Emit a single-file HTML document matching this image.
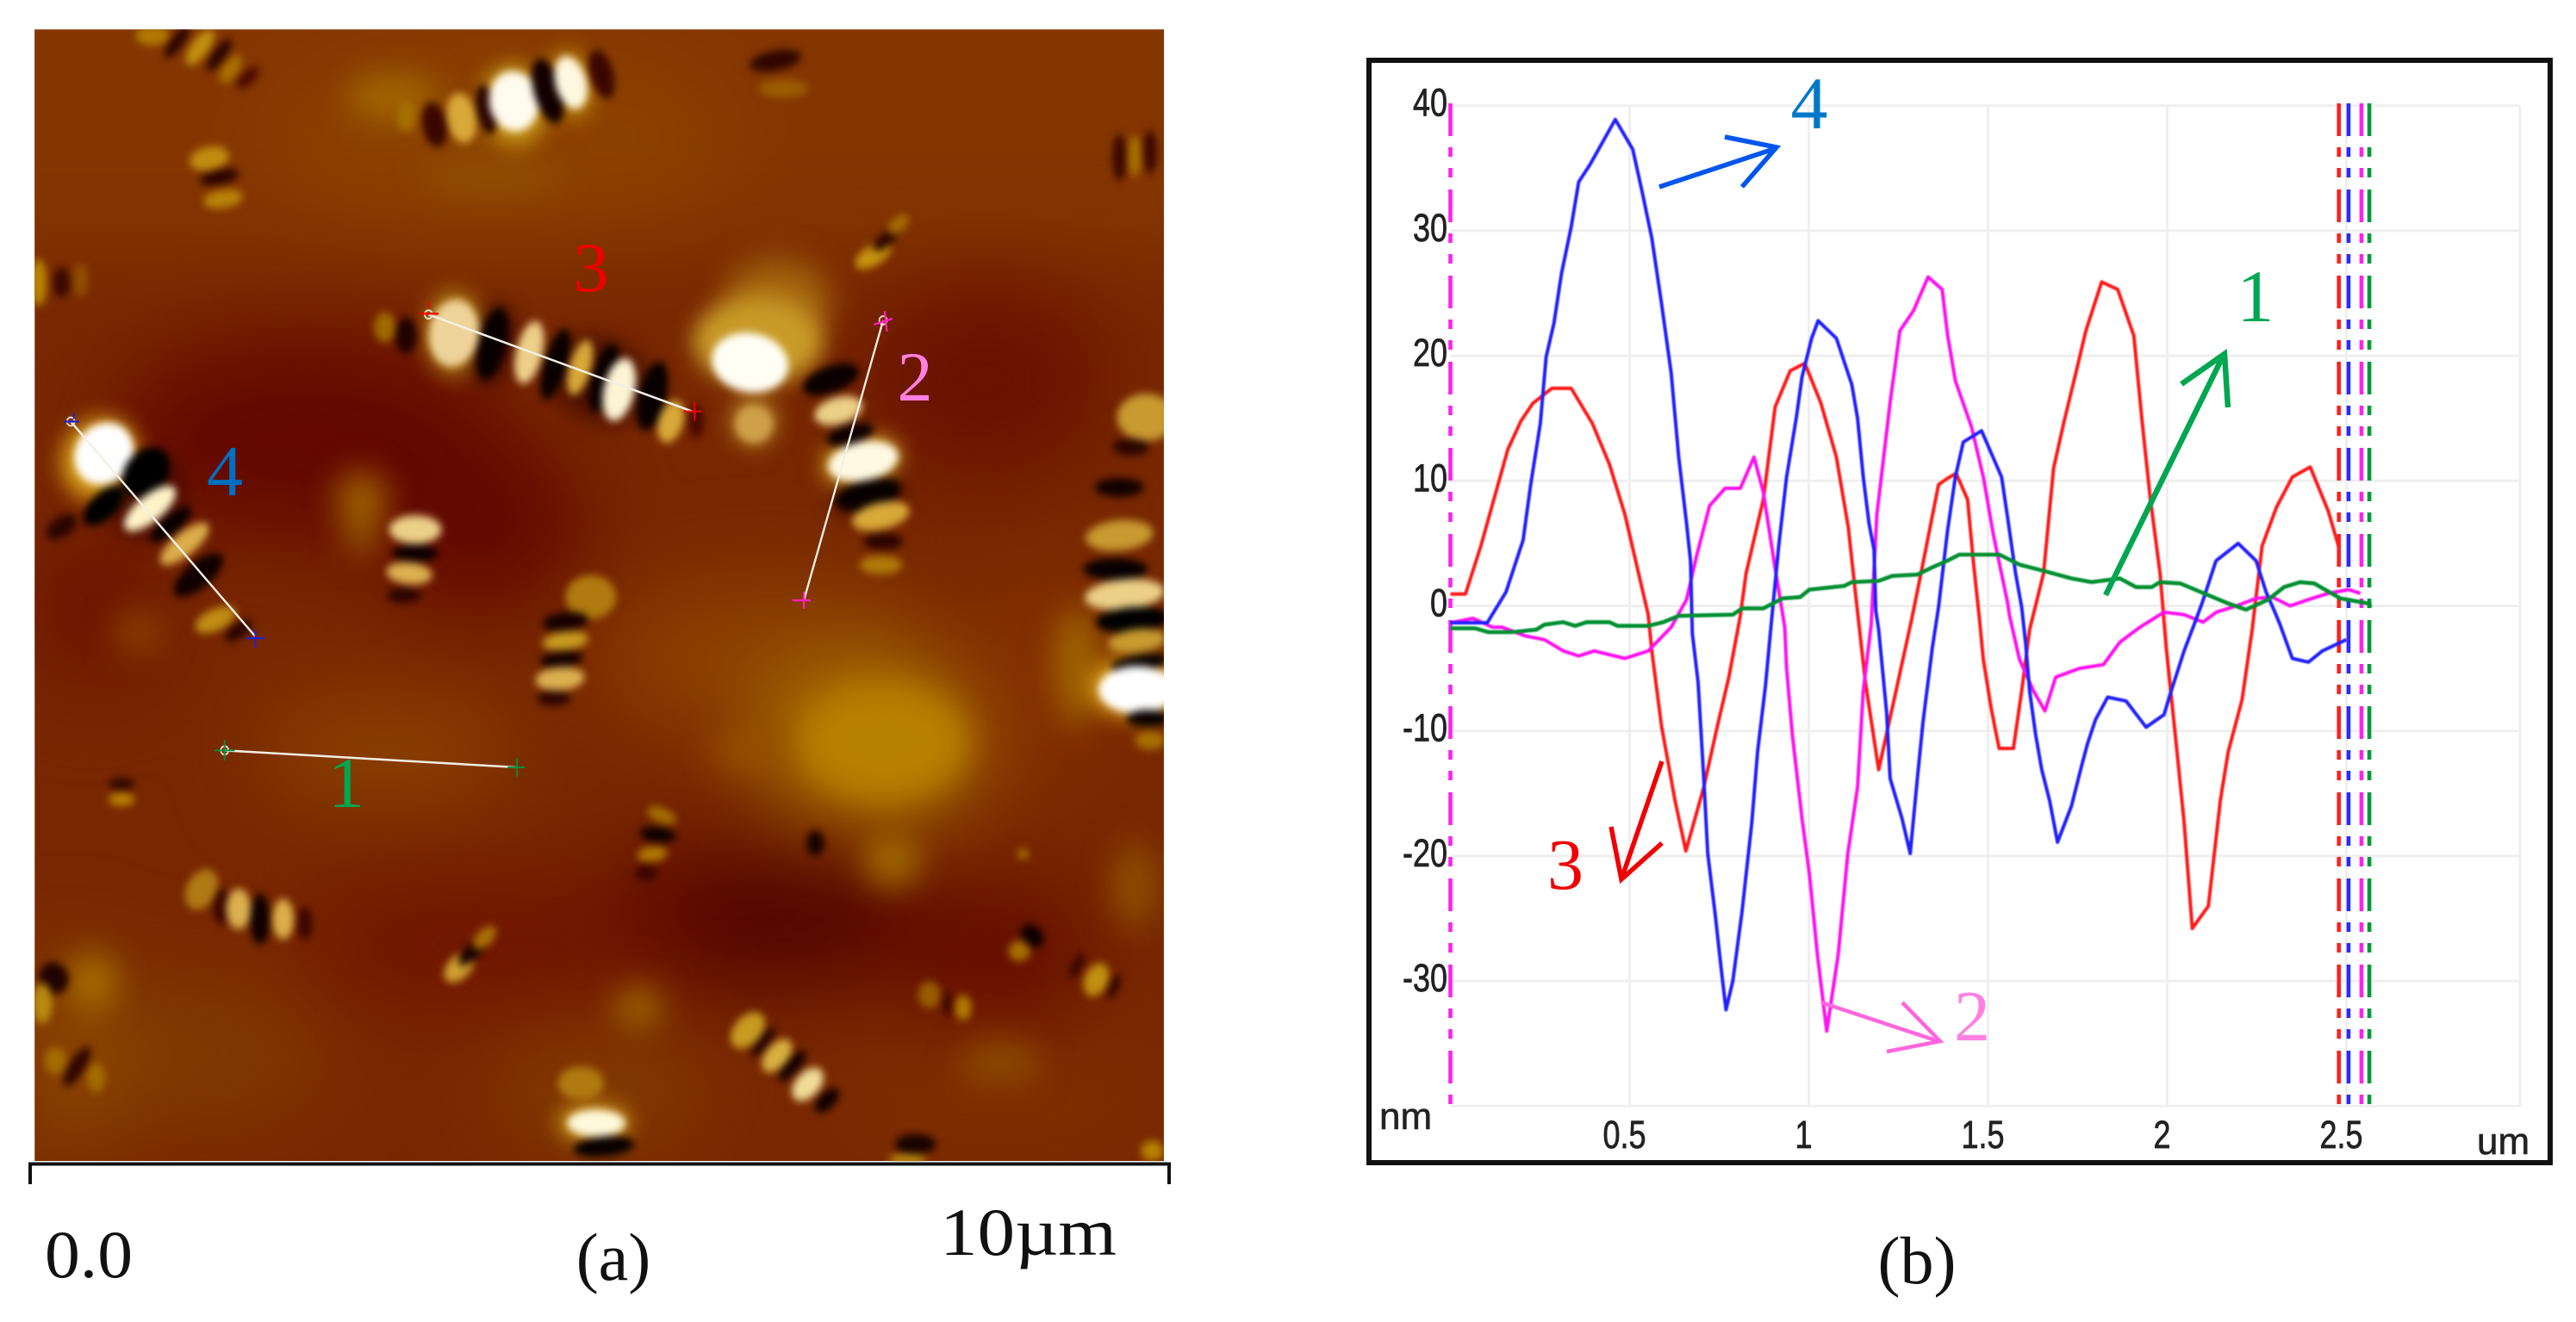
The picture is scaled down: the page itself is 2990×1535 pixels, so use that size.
<!DOCTYPE html>
<html lang="en">
<head>
<meta charset="utf-8">
<title>AFM map and height profiles</title>
<style>
html,body{margin:0;padding:0;background:#fff;width:2990px;height:1535px;overflow:hidden}
svg{display:block}
.ser{font-family:"Liberation Serif",serif}
.san{font-family:"Liberation Sans",sans-serif}
</style>
</head>
<body>
<svg id="fig" xmlns="http://www.w3.org/2000/svg" width="2990" height="1535" viewBox="0 0 2990 1535">
<defs>
<filter id="b60" x="-50%" y="-50%" width="200%" height="200%" color-interpolation-filters="sRGB"><feGaussianBlur stdDeviation="55"/></filter>
<filter id="b25" x="-50%" y="-50%" width="200%" height="200%" color-interpolation-filters="sRGB"><feGaussianBlur stdDeviation="20"/></filter>
<filter id="b6" x="-50%" y="-50%" width="200%" height="200%" color-interpolation-filters="sRGB"><feGaussianBlur stdDeviation="13"/></filter>
<filter id="b3" x="-50%" y="-50%" width="200%" height="200%" color-interpolation-filters="sRGB"><feGaussianBlur stdDeviation="5"/></filter>
<filter id="soft" x="-5%" y="-5%" width="110%" height="110%" color-interpolation-filters="sRGB"><feGaussianBlur stdDeviation="0.7"/></filter>
<clipPath id="mapclip"><rect x="45" y="35" width="1468" height="1342"/></clipPath>
</defs>

<g id="panel-a">
<g transform="scale(0.8929,0.979)" clip-path="url(#mapclip)">
<rect x="45" y="35" width="1468" height="1342" fill="#782800"/>
<g filter="url(#b60)">
<rect x="-100" y="-100" width="1800" height="400" fill="#843600"/>
<ellipse cx="650" cy="170" rx="300" ry="110" fill="#8c4200"/>
<ellipse cx="1200" cy="150" rx="250" ry="70" fill="#833600"/>
<ellipse cx="400" cy="520" rx="260" ry="120" fill="#640800"/>
<ellipse cx="620" cy="620" rx="140" ry="100" fill="#620800"/>
<ellipse cx="1280" cy="450" rx="160" ry="120" fill="#6a1200"/>
<ellipse cx="120" cy="720" rx="90" ry="90" fill="#6c1400"/>
<ellipse cx="500" cy="890" rx="170" ry="50" fill="#904800"/>
<ellipse cx="1000" cy="780" rx="220" ry="90" fill="#8c4200"/>
<ellipse cx="1130" cy="880" rx="150" ry="100" fill="#aa7000"/>
<ellipse cx="1350" cy="800" rx="90" ry="140" fill="#823000"/>
<ellipse cx="980" cy="1090" rx="240" ry="80" fill="#540300"/>
<ellipse cx="1290" cy="1130" rx="130" ry="80" fill="#640c00"/>
<ellipse cx="640" cy="1120" rx="250" ry="70" fill="#701400"/>
<ellipse cx="230" cy="1250" rx="200" ry="80" fill="#823a00"/>
<ellipse cx="780" cy="1290" rx="140" ry="70" fill="#843c00"/>
<ellipse cx="1300" cy="1300" rx="220" ry="60" fill="#803000"/>
<ellipse cx="90" cy="1250" rx="70" ry="120" fill="#8c4800"/>
</g>
<g filter="url(#b25)">
<ellipse cx="1150" cy="880" rx="110" ry="70" fill="#b68000"/>
<ellipse cx="1160" cy="1020" rx="38" ry="30" fill="#a26c00"/>
<ellipse cx="510" cy="115" rx="60" ry="25" fill="#a56a00"/>
<ellipse cx="640" cy="210" rx="90" ry="22" fill="#934e00"/>
<ellipse cx="1010" cy="360" rx="70" ry="50" fill="#a76a10"/>
<ellipse cx="975" cy="890" rx="50" ry="20" fill="#985000"/>
<ellipse cx="470" cy="590" rx="35" ry="28" fill="#a06400"/>
<ellipse cx="470" cy="635" rx="25" ry="22" fill="#955800"/>
<ellipse cx="180" cy="750" rx="35" ry="22" fill="#8a4300"/>
<ellipse cx="1400" cy="790" rx="30" ry="70" fill="#a06400"/>
<ellipse cx="120" cy="1165" rx="32" ry="32" fill="#a87000"/>
<ellipse cx="830" cy="1195" rx="32" ry="20" fill="#a57000"/>
<ellipse cx="1300" cy="1260" rx="55" ry="22" fill="#8f4d00"/>
<ellipse cx="1475" cy="1050" rx="30" ry="50" fill="#8f4d00"/>
</g>
<g filter="url(#b6)">
<ellipse cx="590" cy="395" rx="38" ry="50" fill="#b07d14"/>
<ellipse cx="985" cy="405" rx="85" ry="52" fill="#c89a28"/>
<ellipse cx="980" cy="500" rx="30" ry="28" fill="#b8872a"/>
<ellipse cx="130" cy="545" rx="52" ry="48" transform="rotate(-35 130 545)" fill="#d8a018"/>
<ellipse cx="1475" cy="815" rx="60" ry="36" fill="#d8a018"/>
<ellipse cx="1120" cy="547" rx="52" ry="28" transform="rotate(-10 1120 547)" fill="#d0a020"/>
<ellipse cx="668" cy="125" rx="42" ry="48" transform="rotate(-15 668 125)" fill="#c89a18"/>
<ellipse cx="742" cy="100" rx="28" ry="40" transform="rotate(-15 742 100)" fill="#c08a10"/>
<ellipse cx="772" cy="1332" rx="48" ry="22" fill="#c89a18"/>
<ellipse cx="640" cy="408" rx="24" ry="46" transform="rotate(15 640 408)" fill="#300200"/>
<ellipse cx="780" cy="450" rx="70" ry="50" transform="rotate(18 780 450)" fill="#300200" opacity="0.6"/>
<ellipse cx="190" cy="590" rx="50" ry="45" transform="rotate(-36 190 590)" fill="#300200" opacity="0.6"/>
<ellipse cx="1130" cy="587" rx="48" ry="22" transform="rotate(-12 1130 587)" fill="#300200" opacity="0.6"/>
</g>
<g filter="url(#b3)">
<g>
<ellipse cx="565" cy="148" rx="16" ry="27" transform="rotate(-12 565 148)" fill="#3a0600"/>
<ellipse cx="528" cy="138" rx="12" ry="18" fill="#a57000"/>
<ellipse cx="600" cy="140" rx="19" ry="30" transform="rotate(-12 600 140)" fill="#d8a838"/>
<ellipse cx="632" cy="130" rx="13" ry="30" transform="rotate(-12 632 130)" fill="#2a0400"/>
<ellipse cx="668" cy="120" rx="32" ry="36" transform="rotate(-15 668 120)" fill="#fffbee"/>
<ellipse cx="712" cy="108" rx="18" ry="40" transform="rotate(-18 712 108)" fill="#120000"/>
<ellipse cx="742" cy="98" rx="20" ry="32" transform="rotate(-18 742 98)" fill="#fff8e0"/>
<ellipse cx="782" cy="88" rx="15" ry="30" transform="rotate(-18 782 88)" fill="#3a0600"/>
</g>
<g>
<ellipse cx="198" cy="42" rx="22" ry="12" fill="#b07a00"/>
<ellipse cx="230" cy="50" rx="24" ry="8" transform="rotate(-50 230 50)" fill="#2a0400"/>
<ellipse cx="260" cy="56" rx="26" ry="11" transform="rotate(-50 260 56)" fill="#c09010"/>
<ellipse cx="285" cy="65" rx="24" ry="8" transform="rotate(-50 285 65)" fill="#2a0400"/>
<ellipse cx="300" cy="82" rx="20" ry="10" transform="rotate(-50 300 82)" fill="#a87000"/>
<ellipse cx="322" cy="92" rx="18" ry="8" transform="rotate(-40 322 92)" fill="#4a0800"/>
</g>
<g>
<ellipse cx="272" cy="188" rx="26" ry="14" transform="rotate(-10 272 188)" fill="#c08c10"/>
<ellipse cx="285" cy="210" rx="26" ry="9" transform="rotate(-10 285 210)" fill="#2a0400"/>
<ellipse cx="290" cy="236" rx="26" ry="11" transform="rotate(-8 290 236)" fill="#b88208"/>
</g>
<ellipse cx="1008" cy="72" rx="34" ry="12" transform="rotate(-10 1008 72)" fill="#300600"/>
<ellipse cx="1018" cy="105" rx="32" ry="11" fill="#9a5c00"/>
<ellipse cx="1455" cy="187" rx="9" ry="28" fill="#3a0800"/>
<ellipse cx="1475" cy="185" rx="9" ry="24" fill="#a87000"/>
<ellipse cx="1495" cy="180" rx="9" ry="26" fill="#3a0800"/>
<ellipse cx="1135" cy="303" rx="26" ry="12" transform="rotate(-28 1135 303)" fill="#c89410"/>
<ellipse cx="1153" cy="283" rx="22" ry="8" transform="rotate(-38 1153 283)" fill="#2a0400"/>
<ellipse cx="1168" cy="266" rx="16" ry="9" transform="rotate(-38 1168 266)" fill="#a46c00"/>
<ellipse cx="50" cy="335" rx="11" ry="28" fill="#b88400"/>
<ellipse cx="80" cy="335" rx="11" ry="18" fill="#3a0800"/>
<ellipse cx="105" cy="332" rx="10" ry="20" fill="#8f4e00"/>
<g>
<ellipse cx="500" cy="388" rx="14" ry="18" fill="#a06a00"/>
<ellipse cx="528" cy="398" rx="14" ry="22" fill="#200200"/>
<ellipse cx="590" cy="395" rx="32" ry="40" transform="rotate(12 590 395)" fill="#eed39a"/>
<ellipse cx="640" cy="408" rx="17" ry="44" transform="rotate(15 640 408)" fill="#080000"/>
<ellipse cx="688" cy="418" rx="17" ry="38" transform="rotate(15 688 418)" fill="#edd08a"/>
<ellipse cx="722" cy="432" rx="14" ry="44" transform="rotate(18 722 432)" fill="#080000"/>
<ellipse cx="754" cy="436" rx="14" ry="34" transform="rotate(18 754 436)" fill="#d8a838"/>
<ellipse cx="785" cy="448" rx="15" ry="42" transform="rotate(18 785 448)" fill="#080000"/>
<ellipse cx="805" cy="462" rx="20" ry="38" transform="rotate(15 805 462)" fill="#fdf4d4"/>
<ellipse cx="848" cy="470" rx="18" ry="42" transform="rotate(15 848 470)" fill="#080000"/>
<ellipse cx="872" cy="500" rx="16" ry="26" transform="rotate(20 872 500)" fill="#d8a838"/>
<ellipse cx="905" cy="500" rx="10" ry="20" fill="#4a0800"/>
</g>
<g>
<ellipse cx="975" cy="430" rx="50" ry="35" transform="rotate(8 975 430)" fill="#fffff6"/>
<ellipse cx="980" cy="503" rx="24" ry="22" fill="#cfa04a"/>
</g>
<g>
<ellipse cx="1080" cy="450" rx="38" ry="16" transform="rotate(-18 1080 450)" fill="#0a0000"/>
<ellipse cx="1090" cy="487" rx="32" ry="16" transform="rotate(-14 1090 487)" fill="#ecd088"/>
<ellipse cx="1105" cy="515" rx="32" ry="12" transform="rotate(-14 1105 515)" fill="#100000"/>
<ellipse cx="1122" cy="547" rx="46" ry="23" transform="rotate(-10 1122 547)" fill="#fff9e4"/>
<ellipse cx="1128" cy="587" rx="44" ry="17" transform="rotate(-12 1128 587)" fill="#080000"/>
<ellipse cx="1145" cy="612" rx="38" ry="16" transform="rotate(-12 1145 612)" fill="#d8a838"/>
<ellipse cx="1148" cy="642" rx="26" ry="10" fill="#2a0400"/>
<ellipse cx="1145" cy="670" rx="28" ry="11" fill="#b07a08"/>
</g>
<g>
<ellipse cx="135" cy="538" rx="40" ry="35" transform="rotate(-35 135 538)" fill="#ffffff"/>
<ellipse cx="190" cy="560" rx="34" ry="26" transform="rotate(-40 190 560)" fill="#000000"/>
<ellipse cx="135" cy="600" rx="32" ry="16" transform="rotate(-38 135 600)" fill="#000000"/>
<ellipse cx="195" cy="603" rx="40" ry="16" transform="rotate(-36 195 603)" fill="#fff3c8"/>
<ellipse cx="222" cy="622" rx="32" ry="11" transform="rotate(-36 222 622)" fill="#080000"/>
<ellipse cx="240" cy="645" rx="38" ry="14" transform="rotate(-36 240 645)" fill="#dcae4a"/>
<ellipse cx="258" cy="682" rx="38" ry="16" transform="rotate(-36 258 682)" fill="#100000"/>
<ellipse cx="280" cy="735" rx="28" ry="13" transform="rotate(-22 280 735)" fill="#c08c14"/>
<ellipse cx="310" cy="748" rx="20" ry="9" transform="rotate(-30 310 748)" fill="#2a0400"/>
<ellipse cx="80" cy="625" rx="22" ry="12" transform="rotate(-30 80 625)" fill="#2a0600"/>
</g>
<g>
<ellipse cx="540" cy="628" rx="34" ry="17" fill="#ecd088"/>
<ellipse cx="540" cy="656" rx="30" ry="10" fill="#0c0000"/>
<ellipse cx="532" cy="680" rx="30" ry="13" transform="rotate(5 532 680)" fill="#dcb050"/>
<ellipse cx="525" cy="706" rx="22" ry="9" fill="#2a0400"/>
</g>
<g>
<ellipse cx="768" cy="708" rx="33" ry="26" fill="#b07a10"/>
<ellipse cx="735" cy="737" rx="30" ry="11" transform="rotate(-6 735 737)" fill="#160000"/>
<ellipse cx="735" cy="760" rx="30" ry="11" transform="rotate(-6 735 760)" fill="#c89a20"/>
<ellipse cx="730" cy="782" rx="28" ry="10" transform="rotate(-6 730 782)" fill="#160000"/>
<ellipse cx="728" cy="805" rx="32" ry="14" transform="rotate(-4 728 805)" fill="#dcb050"/>
<ellipse cx="720" cy="828" rx="22" ry="9" fill="#2a0400"/>
</g>
<g>
<ellipse cx="1490" cy="495" rx="38" ry="28" fill="#c89a30"/>
<ellipse cx="1470" cy="530" rx="24" ry="10" fill="#2a0400"/>
<ellipse cx="1455" cy="578" rx="32" ry="11" fill="#100000"/>
<ellipse cx="1455" cy="635" rx="44" ry="18" transform="rotate(-5 1455 635)" fill="#c89a30"/>
<ellipse cx="1450" cy="675" rx="42" ry="13" fill="#080000"/>
<ellipse cx="1462" cy="705" rx="52" ry="18" transform="rotate(-5 1462 705)" fill="#ecd088"/>
<ellipse cx="1472" cy="735" rx="48" ry="15" transform="rotate(-4 1472 735)" fill="#000000"/>
<ellipse cx="1478" cy="760" rx="38" ry="14" transform="rotate(-6 1478 760)" fill="#c89a30"/>
<ellipse cx="1482" cy="786" rx="38" ry="10" transform="rotate(-8 1482 786)" fill="#080000"/>
<ellipse cx="1478" cy="818" rx="50" ry="28" fill="#ffffff"/>
<ellipse cx="1492" cy="852" rx="28" ry="10" fill="#080000"/>
<ellipse cx="1495" cy="878" rx="20" ry="11" fill="#a87000"/>
</g>
<ellipse cx="158" cy="930" rx="17" ry="7" fill="#2a0600"/>
<ellipse cx="158" cy="948" rx="17" ry="8" fill="#b88200"/>
<g>
<ellipse cx="262" cy="1055" rx="19" ry="26" transform="rotate(35 262 1055)" fill="#b07a14"/>
<ellipse cx="288" cy="1075" rx="11" ry="22" fill="#3a0600"/>
<ellipse cx="310" cy="1078" rx="16" ry="24" fill="#dcb050"/>
<ellipse cx="338" cy="1090" rx="13" ry="30" fill="#100000"/>
<ellipse cx="368" cy="1090" rx="14" ry="24" fill="#dcae4a"/>
<ellipse cx="396" cy="1095" rx="10" ry="20" fill="#3a0600"/>
</g>
<ellipse cx="597" cy="1147" rx="23" ry="14" transform="rotate(-40 597 1147)" fill="#d0a030"/>
<ellipse cx="615" cy="1128" rx="24" ry="9" transform="rotate(-40 615 1128)" fill="#160000"/>
<ellipse cx="630" cy="1112" rx="18" ry="10" transform="rotate(-40 630 1112)" fill="#a87008"/>
<ellipse cx="860" cy="967" rx="20" ry="9" transform="rotate(20 860 967)" fill="#a46c00"/>
<ellipse cx="855" cy="990" rx="24" ry="9" transform="rotate(5 855 990)" fill="#0c0000"/>
<ellipse cx="848" cy="1013" rx="20" ry="9" transform="rotate(-5 848 1013)" fill="#b07a00"/>
<ellipse cx="840" cy="1035" rx="14" ry="10" fill="#3a0600"/>
<ellipse cx="1060" cy="1000" rx="12" ry="15" fill="#180200"/>
<ellipse cx="1330" cy="1013" rx="8" ry="6" fill="#a87000"/>
<ellipse cx="1342" cy="1110" rx="16" ry="12" transform="rotate(40 1342 1110)" fill="#0c0000"/>
<ellipse cx="1325" cy="1128" rx="14" ry="12" fill="#a87000"/>
<ellipse cx="1425" cy="1162" rx="15" ry="21" transform="rotate(30 1425 1162)" fill="#c09010"/>
<ellipse cx="1400" cy="1145" rx="6" ry="16" transform="rotate(30 1400 1145)" fill="#300400"/>
<ellipse cx="1448" cy="1170" rx="6" ry="16" transform="rotate(30 1448 1170)" fill="#300400"/>
<ellipse cx="1208" cy="1180" rx="15" ry="16" fill="#985c00"/>
<ellipse cx="1232" cy="1190" rx="6" ry="15" fill="#3a0600"/>
<ellipse cx="1252" cy="1195" rx="11" ry="15" fill="#b07a00"/>
<g>
<ellipse cx="972" cy="1222" rx="26" ry="17" transform="rotate(-42 972 1222)" fill="#c89a20"/>
<ellipse cx="992" cy="1236" rx="22" ry="7" transform="rotate(-48 992 1236)" fill="#200200"/>
<ellipse cx="1010" cy="1252" rx="24" ry="14" transform="rotate(-45 1010 1252)" fill="#d8b040"/>
<ellipse cx="1030" cy="1264" rx="24" ry="9" transform="rotate(-45 1030 1264)" fill="#160000"/>
<ellipse cx="1050" cy="1286" rx="24" ry="15" transform="rotate(-42 1050 1286)" fill="#f0dc98"/>
<ellipse cx="1075" cy="1305" rx="19" ry="10" transform="rotate(-40 1075 1305)" fill="#100000"/>
</g>
<g>
<ellipse cx="755" cy="1285" rx="30" ry="20" fill="#b07a10"/>
<ellipse cx="775" cy="1332" rx="38" ry="16" fill="#fff8dc"/>
<ellipse cx="785" cy="1360" rx="40" ry="12" transform="rotate(-5 785 1360)" fill="#080000"/>
</g>
<ellipse cx="1190" cy="1357" rx="27" ry="12" fill="#180200"/>
<ellipse cx="1180" cy="1375" rx="25" ry="6" fill="#c09010"/>
<ellipse cx="1498" cy="1365" rx="15" ry="12" fill="#b88200"/>
<ellipse cx="70" cy="1160" rx="20" ry="18" transform="rotate(40 70 1160)" fill="#200200"/>
<ellipse cx="55" cy="1190" rx="13" ry="24" fill="#b88a10"/>
<ellipse cx="100" cy="1265" rx="10" ry="28" transform="rotate(35 100 1265)" fill="#300600"/>
<ellipse cx="72" cy="1258" rx="14" ry="16" fill="#a46c00"/>
<ellipse cx="125" cy="1278" rx="12" ry="17" fill="#a46c00"/>
</g>
<g>
<line x1="292" y1="890" x2="670" y2="910" stroke="#f2efe6" stroke-width="2.6"/>
<circle cx="292" cy="890" r="5" fill="none" stroke="#e8dcc8" stroke-width="2"/>
<path d="M279 890H305M292 878V902M660 910H682M672 899V921" stroke="#009040" stroke-width="2" fill="none"/>
</g>
<g>
<line x1="1148" y1="380" x2="1045" y2="712" stroke="#f2efe6" stroke-width="2.6"/>
<circle cx="1148" cy="380" r="5" fill="none" stroke="#e8dcc8" stroke-width="2"/>
<path d="M1136 385L1160 378M1150 369L1153 393M1030 712H1054M1045 702V722" stroke="#ff20c0" stroke-width="2.4" fill="none"/>
</g>
<g>
<line x1="557" y1="373" x2="900" y2="488" stroke="#f2efe6" stroke-width="2.6"/>
<circle cx="557" cy="373" r="5" fill="none" stroke="#e8dcc8" stroke-width="2"/>
<path d="M545 372H570M557 358V365M889 488H912M903 477V499" stroke="#f00000" stroke-width="2.4" fill="none"/>
</g>
<g>
<line x1="92" y1="500" x2="332" y2="755" stroke="#f2efe6" stroke-width="2.6"/>
<circle cx="92" cy="500" r="5" fill="none" stroke="#e8dcc8" stroke-width="2"/>
<path d="M84 500H103M96 490V497M320 757H344M332 747V768" stroke="#2020e0" stroke-width="2.2" fill="none"/>
</g>
</g>
<text x="686" y="338" class="ser" font-size="82" text-anchor="middle" fill="#f00000">3</text>
<text x="1062" y="465" class="ser" font-size="82" text-anchor="middle" fill="#ff80e0">2</text>
<text x="261" y="575" class="ser" font-size="84" text-anchor="middle" fill="#0070c0">4</text>
<text x="402" y="937" class="ser" font-size="84" text-anchor="middle" fill="#00a650">1</text>
<path d="M35 1375V1351.5H1357V1375" fill="none" stroke="#111" stroke-width="4"/>
<text x="52" y="1483" class="ser" font-size="78" fill="#111" textLength="102" lengthAdjust="spacingAndGlyphs">0.0</text>
<text x="1091" y="1457" class="ser" font-size="78" fill="#111" textLength="205" lengthAdjust="spacingAndGlyphs">10µm</text>
<text x="712" y="1486" class="ser" font-size="78" text-anchor="middle" fill="#111">(a)</text>
</g>

<g id="panel-b">
<rect x="1589" y="70" width="1371" height="1280" fill="#fff" stroke="#111" stroke-width="6"/>
<g id="grid"></g>
<g id="ticks"></g>
<g id="cursors"></g>
<g id="series" filter="url(#soft)"></g>
<text x="1601" y="1311" class="san" font-size="44" fill="#222" stroke="#222" stroke-width="0.6">nm</text>
<text x="2875" y="1340" class="san" font-size="44" fill="#222" stroke="#222" stroke-width="0.6">um</text>
<g fill="none" stroke="#0055ee" stroke-width="5.5"><path d="M1926 217L2062 172M2002 159L2062 171L2022 217"/></g>
<text x="2100" y="149" class="ser" font-size="86" text-anchor="middle" fill="#0078c8">4</text>
<g fill="none" stroke="#00a650" stroke-width="6.5"><path d="M2444 691L2581 412M2532 446L2582 411L2586 473"/></g>
<text x="2618" y="373" class="ser" font-size="86" text-anchor="middle" fill="#00a650">1</text>
<g fill="none" stroke="#f00000" stroke-width="5.5"><path d="M1929 884L1883 1018M1870 960L1882 1021L1929 979"/></g>
<text x="1817" y="1032" class="ser" font-size="84" text-anchor="middle" fill="#f00000">3</text>
<g fill="none" stroke="#ff66dd" stroke-width="4.5"><path d="M2114 1164L2250 1209M2208 1164L2252 1209L2190 1221"/></g>
<text x="2289" y="1208" class="ser" font-size="84" text-anchor="middle" fill="#ff80e0">2</text>
<text x="2225" y="1490" class="ser" font-size="78" text-anchor="middle" fill="#111">(b)</text>
</g>
</svg>

<script>
var xTickValues = [0.5, 1, 1.5, 2, 2.5];
var xTickLabels = ["0.5", "1", "1.5", "2", "2.5"];
var yTickValues = [40, 30, 20, 10, 0, -10, -20, -30];
var yTickLabels = ["40", "30", "20", "10", "0", "-10", "-20", "-30"];

var curve3X = [0,.042,.085,.16,.197,.23,.283,.337,.396,.444,.487,.525,.552,.562,.589,.627,.657,.707,.745,.777,.809,.825,.873,.906,.948,.989,1.034,1.077,1.11,1.131,1.158,1.195,1.238,1.286,1.313,1.362,1.387,1.411,1.443,1.459,1.476,1.487,1.509,1.531,1.571,1.594,1.616,1.655,1.683,1.711,1.745,1.773,1.817,1.862,1.907,1.929,1.952,1.98,1.997,2.025,2.047,2.07,2.115,2.148,2.17,2.209,2.237,2.265,2.305,2.349,2.399,2.449,2.478];
var curve3Y = [.95,.95,4.8,12.5,14.8,16.2,17.4,17.4,14.6,11.3,7.3,2.6,-.7,-3.6,-9.6,-15.6,-19.6,-14.5,-9.6,-5.7,-.8,2.6,8.5,15.9,18.8,19.4,16.2,11.9,6.3,.8,-6.1,-13.1,-7.5,-1.2,2.6,9.7,10.2,10.6,8.5,3.6,-1,-4.3,-8.2,-11.4,-11.4,-6.8,-1.9,2.6,11,14.6,18.6,22,25.9,25.3,21.6,15,8.8,2.6,-3.3,-11,-17.3,-25.8,-24,-15.6,-11.7,-7.5,-1.9,4.8,7.9,10.3,11.1,7.6,4.8];

var curve2X = [0,.063,.117,.144,.208,.262,.315,.358,.401,.487,.552,.616,.659,.686,.723,.766,.809,.847,.873,.906,.933,.938,.954,.981,1.002,1.024,1.05,1.082,1.109,1.136,1.152,1.174,1.19,1.228,1.254,1.292,1.333,1.372,1.387,1.409,1.454,1.487,1.515,1.555,1.56,1.588,1.627,1.659,1.689,1.755,1.822,1.868,1.924,1.991,2.047,2.1,2.137,2.193,2.248,2.293,2.343,2.394,2.449,2.506,2.539];
var curve2Y = [-1.35,-1,-1.7,-1.7,-2.4,-2.7,-3.6,-4,-3.6,-4.2,-3.6,-1.7,.5,3.9,8,9.4,9.4,11.9,9.1,3,-1.7,-5,-10.3,-17,-21.5,-27.9,-34,-27.9,-19.8,-14.5,-6.8,-1.5,7.3,16.5,22,23.6,26.3,25.3,21.7,18,14.3,10.3,5.7,.2,-.8,-4.3,-6.8,-8.4,-5.7,-5,-4.7,-2.9,-1.7,-.5,-.7,-1.3,-.5,0,.6,.7,0,.5,1,1.3,1];

var curve1X = [0,.069,.106,.171,.24,.262,.315,.348,.38,.444,.466,.552,.594,.637,.788,.814,.873,.927,.976,1.002,1.099,1.12,1.195,1.233,1.303,1.346,1.386,1.42,1.532,1.588,1.655,1.733,1.789,1.868,1.913,1.957,1.98,2.036,2.103,2.17,2.22,2.282,2.326,2.371,2.41,2.483,2.561,2.568];
var curve1Y = [-1.8,-1.8,-2.1,-2.1,-1.9,-1.5,-1.3,-1.6,-1.3,-1.3,-1.6,-1.6,-1.3,-.8,-.7,-.2,-.2,.6,.7,1.3,1.6,1.9,2,2.4,2.5,3.1,3.6,4.1,4.1,3.3,2.8,2.2,1.9,2.2,1.5,1.5,1.9,1.8,1,.2,-.3,.5,1.5,1.9,1.8,.6,.2,-.1];

var curve4X = [0,.069,.103,.155,.203,.224,.251,.267,.289,.31,.337,.358,.39,.46,.509,.535,.562,.589,.616,.637,.659,.67,.675,.691,.707,.718,.739,.755,.769,.788,.814,.841,.857,.879,.895,.916,.938,.965,.981,1.008,1.026,1.077,1.12,1.136,1.152,1.168,1.182,1.187,1.195,1.217,1.227,1.26,1.283,1.303,1.319,1.345,1.362,1.387,1.409,1.431,1.482,1.538,1.555,1.577,1.594,1.605,1.616,1.633,1.65,1.672,1.694,1.733,1.761,1.778,1.8,1.834,1.885,1.941,1.991,2.008,2.047,2.075,2.097,2.136,2.198,2.248,2.276,2.299,2.315,2.349,2.394,2.433,2.5];
var curve4Y = [-1.35,-1.35,-1.35,1.1,5.26,9.7,14.6,19.9,22.6,26.6,30.3,33.9,35.3,38.9,36.5,33.1,29.4,24.2,18.6,11.9,6.6,3.6,-2.2,-6.1,-13.8,-19.8,-24.7,-28.9,-32.3,-30,-24.4,-17.3,-11.7,-6.4,-1.5,4.8,10.3,15,18.3,21.4,22.8,21.4,17.7,15,10.3,6.6,4.5,-.4,-1.9,-8.5,-13.8,-17,-19.8,-13.8,-9.2,-3.3,-.1,6,10.3,13.1,14,10.3,7,2.6,-.1,-3,-6.8,-10.3,-13.1,-15.6,-18.9,-16,-12.8,-11,-9.1,-7.3,-7.6,-9.7,-8.7,-7.1,-3.6,-1.5,.2,3.6,5,3.6,1.1,-.4,-1.5,-4.2,-4.5,-3.6,-2.7];

var cursorRed = 2.479;
var cursorBlue = 2.506;
var cursorMagenta = 2.542;
var cursorGreen = 2.564;
var cursorStart = 0;

var NS = "http://www.w3.org/2000/svg";
function xPos(u){ return 1683.5 + 416 * u; }
function yPos(v){ return 703.5 - 14.52 * v; }
var plotLeft = 1684, plotRight = 2925, plotTop = yPos(40), plotBottom = yPos(-40);

function mk(tag, parent){
  var el = document.createElementNS(NS, tag);
  parent.appendChild(el);
  return el;
}
var gridG = document.getElementById("grid");
var tickG = document.getElementById("ticks");
var cursorG = document.getElementById("cursors");
var seriesG = document.getElementById("series");

function gridLine(x1, y1, x2, y2){
  var l = mk("line", gridG);
  l.setAttribute("x1", x1); l.setAttribute("y1", y1);
  l.setAttribute("x2", x2); l.setAttribute("y2", y2);
  l.setAttribute("stroke", "#efefef");
  l.setAttribute("stroke-width", "3");
  
  
}
xTickValues.forEach(function(u){ gridLine(xPos(u), plotTop, xPos(u), plotBottom); });
yTickValues.forEach(function(v){ gridLine(plotLeft, yPos(v), plotRight, yPos(v)); });
gridLine(plotLeft, plotBottom, plotRight, plotBottom);
gridLine(plotRight, plotTop, plotRight, plotBottom);

function tickText(label, x, y, anchor, name){
  var t = mk("text", tickG);
  t.textContent = label;
  t.setAttribute("class", "san");
  t.setAttribute("font-size", "36");
  t.setAttribute("fill", "#222");
  t.setAttribute("stroke", "#222");
  t.setAttribute("stroke-width", "0.6");
  t.setAttribute("text-anchor", anchor);
  t.setAttribute("transform", "translate(" + x + "," + y + ") scale(1,1.26)");
  
  
}
xTickValues.forEach(function(u, i){
  tickText(xTickLabels[i], xPos(u) - 6, 1333, "middle", "x-tick-label");
});
yTickValues.forEach(function(v, i){
  tickText(yTickLabels[i], 1680, yPos(v) + 12, "end", "y-tick-label");
});

function cursor(u, color, name){
  var l = mk("line", cursorG);
  l.setAttribute("x1", xPos(u)); l.setAttribute("x2", xPos(u));
  l.setAttribute("y1", 120); l.setAttribute("y2", plotBottom);
  l.setAttribute("stroke", color);
  l.setAttribute("stroke-width", "4.6");
  l.setAttribute("stroke-dasharray", "38 13 11 13 11 14");
  
  
}
cursor(cursorStart, "#ff20f0", "cursor-start");
cursor(cursorRed, "#ff2020", "cursor-red");
cursor(cursorBlue, "#2a2aff", "cursor-blue");
cursor(cursorMagenta, "#ff20f0", "cursor-magenta");
cursor(cursorGreen, "#009a3a", "cursor-green");

function curve(xs, ys, color, width, name){
  var p = mk("polyline", seriesG);
  p.setAttribute("points", xs.map(function(u, i){ return xPos(u).toFixed(1) + "," + yPos(ys[i]).toFixed(1); }).join(" "));
  p.setAttribute("fill", "none");
  p.setAttribute("stroke", color);
  p.setAttribute("stroke-width", width);
  p.setAttribute("stroke-linejoin", "round");
  
  
}
curve(curve3X, curve3Y, "#ff1a1a", "4", "curve-3-red");
curve(curve2X, curve2Y, "#ff10f0", "4", "curve-2-magenta");
curve(curve4X, curve4Y, "#2020ff", "4", "curve-4-blue");
curve(curve1X, curve1Y, "#008f30", "4.6", "curve-1-green");
</script>
</body>
</html>
